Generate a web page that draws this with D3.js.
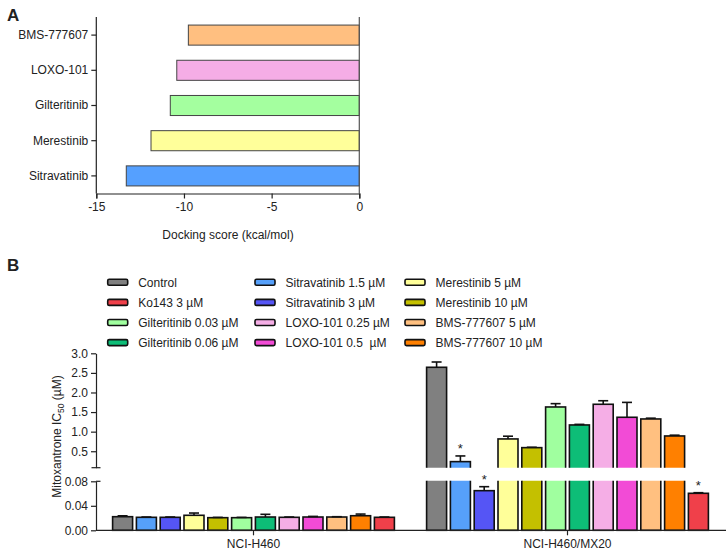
<!DOCTYPE html>
<html><head><meta charset="utf-8">
<script src="https://cdn.jsdelivr.net/npm/d3@7"></script>
<style>
body{margin:0;background:#fff;}
text{font-family:"Liberation Sans",Arial,sans-serif;fill:#222;white-space:pre;}
</style></head>
<body><svg id="c" width="726" height="550"></svg>
<script>
// ---- Panel A data ----
const dockCompounds = ["BMS-777607","LOXO-101","Gilteritinib","Merestinib","Sitravatinib"];
const dockScores = [-9.75,-10.41,-10.78,-11.88,-13.29];
const dockColors = ["#ffbf80","#f5ade6","#a4ff9f","#ffff9a","#55a0ff"];
const dockTicks = [-15,-10,-5,0];

// ---- Panel B data ----
const groups = ["NCI-H460","NCI-H460/MX20"];
const treatments = ["Control","Sitravatinib 1.5 µM","Sitravatinib 3 µM","Merestinib 5 µM","Merestinib 10 µM","Gilteritinib 0.03 µM","Gilteritinib 0.06 µM","LOXO-101 0.25 µM","LOXO-101 0.5  µM","BMS-777607 5 µM","BMS-777607 10 µM","Ko143 3 µM"];
const treatColors = ["#808080","#56a0fa","#5555f5","#ffff99","#c4c000","#a0ff9f","#0dbd77","#f5aee6","#f24bd6","#ffc080","#ff8000","#f0404a"];
const h460Values = [0.0222,0.0212,0.0212,0.0245,0.0206,0.0206,0.0217,0.0212,0.0217,0.0217,0.0238,0.0212];
const h460Err = [0.0015,0.0005,0.0005,0.0037,0.0005,0.0005,0.0044,0.0005,0.001,0.0005,0.0027,0.0005];
const mx20Values = [2.643,0.235,0.0647,0.814,0.592,1.63,1.171,1.699,1.367,1.324,0.89,0.0604];
const mx20Err = [0.135,0.145,0.0065,0.07,0.01,0.085,0.015,0.09,0.38,0.02,0.02,0.001];
const mx20Sig = [false,true,true,false,false,false,false,false,false,false,false,true];
const legendOrder = [
  ["Control","Ko143 3 µM","Gilteritinib 0.03 µM","Gilteritinib 0.06 µM"],
  ["Sitravatinib 1.5 µM","Sitravatinib 3 µM","LOXO-101 0.25 µM","LOXO-101 0.5  µM"],
  ["Merestinib 5 µM","Merestinib 10 µM","BMS-777607 5 µM","BMS-777607 10 µM"]];
const upperTicks = [0.5,1.0,1.5,2.0,2.5,3.0];
const lowerTicks = [0,0.04,0.08];

const svg = d3.select("#c");
const ink = "#222";

// ================= Panel A =================
svg.append("text").attr("x",7).attr("y",21).style("font-size","17px").style("font-weight","bold").text("A");
const xA = d3.scaleLinear().domain([-15,0]).range([96.3,359.3]);
const yA = d3.scaleBand().domain(dockCompounds).range([17.5,193.5]).paddingInner(0.43).paddingOuter(0.215);
const gA = svg.append("g");
gA.selectAll("rect.b").data(dockCompounds).join("rect")
  .attr("x",(d,i)=>xA(dockScores[i])).attr("width",(d,i)=>xA(0)-xA(dockScores[i]))
  .attr("y",d=>yA(d)).attr("height",yA.bandwidth())
  .attr("fill",(d,i)=>dockColors[i]).attr("stroke","#444").attr("stroke-width",1);
// zero line
gA.append("line").attr("x1",xA(0)).attr("x2",xA(0)).attr("y1",17).attr("y2",193.5).attr("stroke","#555").attr("stroke-width",1.2);
const axA = gA.append("g").attr("transform","translate(0,193.5)")
  .call(d3.axisBottom(xA).tickValues(dockTicks).tickSize(5).tickPadding(4).tickFormat(d=>String(d)));
const axAy = gA.append("g").attr("transform","translate(96.3,0)")
  .call(d3.axisLeft(yA).tickSize(5).tickPadding(3));
[axA,axAy].forEach(a=>{a.select(".domain").attr("stroke",ink).attr("stroke-width",1.2);
  a.selectAll(".tick line").attr("stroke",ink).attr("stroke-width",1.2);
  a.selectAll("text").style("font-size","12px").attr("fill",ink).style("font-family","'Liberation Sans',Arial,sans-serif");});
axAy.select(".domain").attr("d","M0,17V193.5");
gA.append("text").attr("x",228).attr("y",239).attr("text-anchor","middle").style("font-size","12px").text("Docking score (kcal/mol)");

// ================= Panel B =================
svg.append("text").attr("x",7).attr("y",271).style("font-size","17px").style("font-weight","bold").text("B");

// legend
const legX = [107.7,255,405];
legendOrder.forEach((col,ci)=>{
  col.forEach((name,ri)=>{
    const y = 282.3 + ri*20.1;
    const idx = treatments.indexOf(name);
    svg.append("rect").attr("x",legX[ci]).attr("y",y-3).attr("width",20).attr("height",6).attr("rx",1.5)
      .attr("fill",treatColors[idx]).attr("stroke","#111").attr("stroke-width",1.6);
    svg.append("text").attr("x",legX[ci]+30.5).attr("y",y+4.3).style("font-size","12px").text(name);
  });
});

const yLow = d3.scaleLinear().domain([0,0.08]).range([530.3,481.3]);
const yHigh = d3.scaleLinear().domain([0.08,3.0]).range([467.7,353.3]);
const xG = d3.scaleBand().domain(groups).range([96.5,724.5]);
const xI = d3.scaleBand().domain(treatments).range([-142.8,142.8]).paddingInner(0.16).paddingOuter(0.08);

const defs = svg.append("defs");
defs.append("clipPath").attr("id","clipHigh").append("rect").attr("x",0).attr("y",0).attr("width",726).attr("height",467.7);
defs.append("clipPath").attr("id","clipLow").append("rect").attr("x",0).attr("y",480.7).attr("width",726).attr("height",60);

const seriesByGroup = [{g:groups[0],v:h460Values,e:h460Err,s:treatments.map(()=>false)},
                       {g:groups[1],v:mx20Values,e:mx20Err,s:mx20Sig}];
const bars = [];
seriesByGroup.forEach(S=>treatments.forEach((t,i)=>bars.push({g:S.g,t,i,v:S.v[i],e:S.e[i],sig:S.s[i]})));

const gLow = svg.append("g").attr("clip-path","url(#clipLow)");
const gHigh = svg.append("g").attr("clip-path","url(#clipHigh)");
const bx = d=>xG(d.g)+xG.bandwidth()/2+xI(d.t);
const bw = xI.bandwidth();
// lower segment bars
gLow.selectAll("rect").data(bars).join("rect")
  .attr("x",bx).attr("width",bw)
  .attr("y",d=>d.v>0.08?476:yLow(d.v))
  .attr("height",d=>yLow(0)-(d.v>0.08?476:yLow(d.v)))
  .attr("fill",d=>treatColors[d.i]).attr("stroke","#111").attr("stroke-width",1.6);
// upper segment bars
gHigh.selectAll("rect").data(bars.filter(d=>d.v>0.08)).join("rect")
  .attr("x",bx).attr("width",bw)
  .attr("y",d=>yHigh(d.v)).attr("height",d=>472-yHigh(d.v))
  .attr("fill",d=>treatColors[d.i]).attr("stroke","#111").attr("stroke-width",1.6);
// error bars
const gErr = svg.append("g").attr("stroke","#111").attr("stroke-width",1.6);
bars.forEach(d=>{
  const sc = d.v>0.08?yHigh:yLow;
  const cx = bx(d)+bw/2;
  const y0 = sc(d.v), y1 = sc(d.v+d.e);
  gErr.append("line").attr("x1",cx).attr("x2",cx).attr("y1",y0).attr("y2",y1);
  gErr.append("line").attr("x1",cx-5).attr("x2",cx+5).attr("y1",y1).attr("y2",y1);
  if(d.sig){
    svg.append("text").attr("x",cx).attr("y",y1-2.5).attr("text-anchor","middle").style("font-size","13px").text("*");
  }
});

// axes
function styleAxis(a){a.select(".domain").attr("stroke",ink).attr("stroke-width",1.2);
  a.selectAll(".tick line").attr("stroke",ink).attr("stroke-width",1.2);
  a.selectAll("text").style("font-size","12px").attr("fill",ink).style("font-family","'Liberation Sans',Arial,sans-serif");}
const axHi = svg.append("g").attr("transform","translate(96,0)")
  .call(d3.axisLeft(yHigh).tickValues(upperTicks).tickSize(5).tickPadding(3).tickFormat(d3.format(".1f")).tickSizeOuter(0));
styleAxis(axHi);
const axLo = svg.append("g").attr("transform","translate(96,0)")
  .call(d3.axisLeft(yLow).tickValues(lowerTicks).tickSize(5).tickPadding(3).tickFormat(d3.format(".2f")).tickSizeOuter(0));
styleAxis(axLo);
// break markers
svg.append("line").attr("x1",91.5).attr("x2",100.5).attr("y1",yHigh(0.08)).attr("y2",yHigh(0.08)).attr("stroke",ink).attr("stroke-width",1.2);
svg.append("line").attr("x1",96).attr("x2",100.5).attr("y1",yLow(0.08)).attr("y2",yLow(0.08)).attr("stroke",ink).attr("stroke-width",1.2);

const axX = svg.append("g").attr("transform","translate(0,530.3)")
  .call(d3.axisBottom(xG).tickSize(5).tickPadding(4).tickSizeOuter(0));
styleAxis(axX);
axX.select(".domain").attr("d","M96,0H726");

// y title
svg.append("text").attr("transform","translate(61,436.5) rotate(-90)").attr("text-anchor","middle")
  .style("font-size","12px")
  .call(t=>{t.append("tspan").text("Mitoxantrone IC");
            t.append("tspan").attr("dy",3).style("font-size","8.5px").text("50");
            t.append("tspan").attr("dy",-3).text(" (µM)");});
</script></body></html>
